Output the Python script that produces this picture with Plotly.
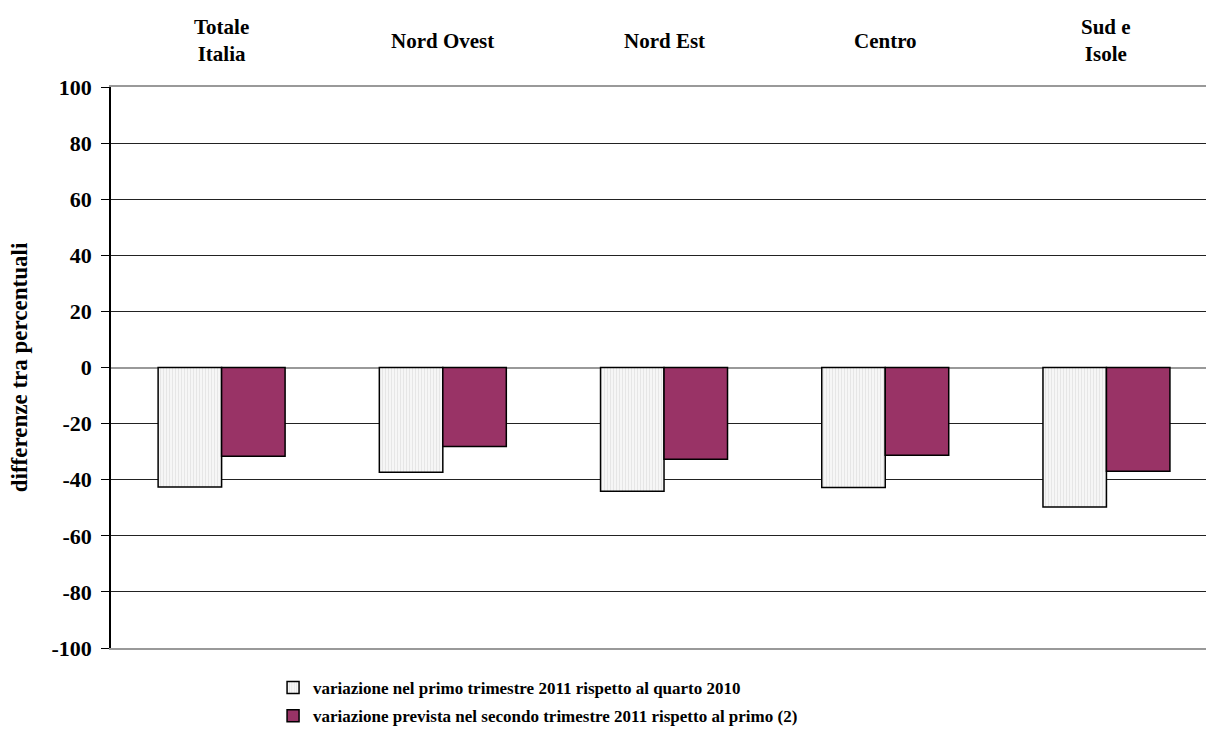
import plotly.graph_objects as go

categories = ["Totale<br>Italia", "Nord Ovest", "Nord Est", "Centro", "Sud e<br>Isole"]
series_names = [
    "variazione nel primo trimestre 2011 rispetto al quarto 2010",
    "variazione prevista nel secondo trimestre 2011 rispetto al primo (2)",
]
var_q1 = [-42.6, -37.3, -44.1, -42.8, -49.7]
var_q2 = [-31.6, -28.2, -32.7, -31.3, -37.0]
y_ticks = [100, 80, 60, 40, 20, 0, -20, -40, -60, -80, -100]
y_tick_labels = [str(v) for v in y_ticks]

FONT = "Liberation Serif, Times New Roman, serif"

fig = go.Figure()
fig.add_trace(go.Bar(
    x=categories, y=var_q1, name=series_names[0], legendgroup="a",
    marker=dict(color="white",
                pattern=dict(shape="|", fgcolor="#d4d4d4", bgcolor="#f8f8f8", size=3, solidity=0.45),
                line=dict(color="black", width=1.5)),
))
fig.add_trace(go.Bar(
    x=categories, y=var_q2, name=series_names[1], legendgroup="b",
    marker=dict(color="#993366", line=dict(color="black", width=1.5)),
))

for cat in categories:
    fig.add_annotation(x=cat, y=1.082, xref="x", yref="paper", text=cat, showarrow=False,
                       xanchor="center", yanchor="middle",
                       font=dict(family=FONT, size=21, color="black", weight="bold"))

fig.update_layout(
    width=1206, height=734,
    margin=dict(l=111, r=0, t=87, b=85),
    paper_bgcolor="white", plot_bgcolor="white",
    barmode="group", bargap=0.426, bargroupgap=0,
    font=dict(family=FONT, size=17, color="black"),
    showlegend=True,
    legend=dict(orientation="v", x=0.148, xanchor="left", y=-0.04, yanchor="top",
                font=dict(family=FONT, size=17, color="black", weight="bold"),
                tracegroupgap=3, itemwidth=30, bgcolor="rgba(0,0,0,0)"),
    xaxis=dict(side="top", range=[-0.5, 4.45], showline=True, linecolor="#999999", linewidth=1.5,
               mirror=True, showgrid=False, ticks="", showticklabels=False),
    yaxis=dict(range=[-100, 100], tickvals=y_ticks, ticktext=y_tick_labels,
               showgrid=True, gridcolor="#222222", gridwidth=1,
               zeroline=True, zerolinecolor="#999999", zerolinewidth=1.5,
               showline=True, linecolor="black", linewidth=1.5, ticks="outside", ticklen=8,
               ticklabelstandoff=5,
               tickcolor="black", tickfont=dict(family=FONT, size=22, color="black", weight="bold")),
)
fig.update_yaxes(title=dict(text="differenze tra percentuali", standoff=17,
                            font=dict(family=FONT, size=23, color="black", weight="bold")))

fig.write_html("out.html", config={"displayModeBar": False},
               post_script="document.body.style.margin='0';document.body.style.overflow='hidden';")
